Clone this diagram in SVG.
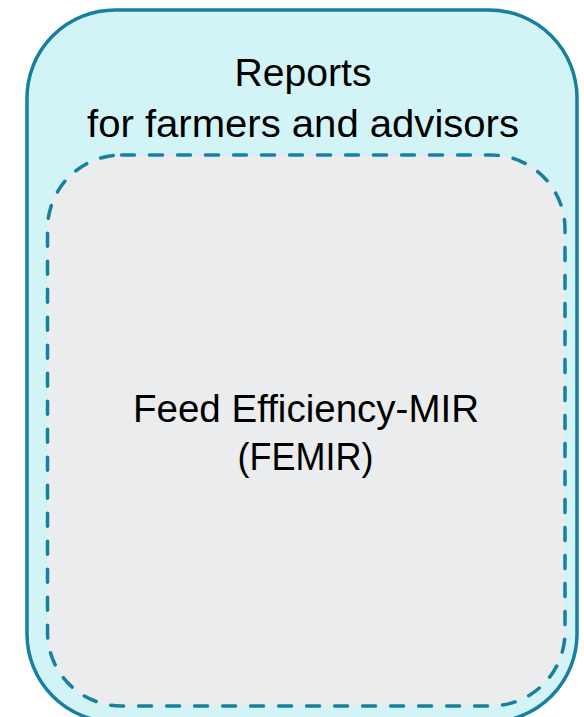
<svg xmlns="http://www.w3.org/2000/svg" width="584" height="717" viewBox="0 0 584 717">
  <style>
    .label { font-family: "Liberation Sans", Arial, sans-serif; font-size: 38px; fill: #000; text-anchor: middle; }
    .outer { fill: #d3f4f7; stroke: #17809f; stroke-width: 3.5; }
    .inner { fill: #ebecee; stroke: #17809f; stroke-width: 3.5; stroke-dasharray: 13 15; stroke-linecap: round; }
  </style>
  <rect width="584" height="717" fill="#ffffff"/>
  <g id="reports">
    <rect class="outer" x="27" y="10" width="550" height="712" rx="88" ry="88"/>
    <text class="label" x="303" y="85.5" textLength="137" lengthAdjust="spacingAndGlyphs">Reports</text>
    <text class="label" x="303" y="137" textLength="432" lengthAdjust="spacingAndGlyphs">for farmers and advisors</text>
  </g>
  <g id="femir">
    <rect class="inner" x="47.5" y="155" width="517.5" height="551" rx="74" ry="74"/>
    <text class="label" x="306" y="421.5" textLength="346" lengthAdjust="spacingAndGlyphs">Feed Efficiency-MIR</text>
    <text class="label" x="305.5" y="469.5" textLength="136" lengthAdjust="spacingAndGlyphs">(FEMIR)</text>
  </g>
  <g id="connectors"/>
</svg>
